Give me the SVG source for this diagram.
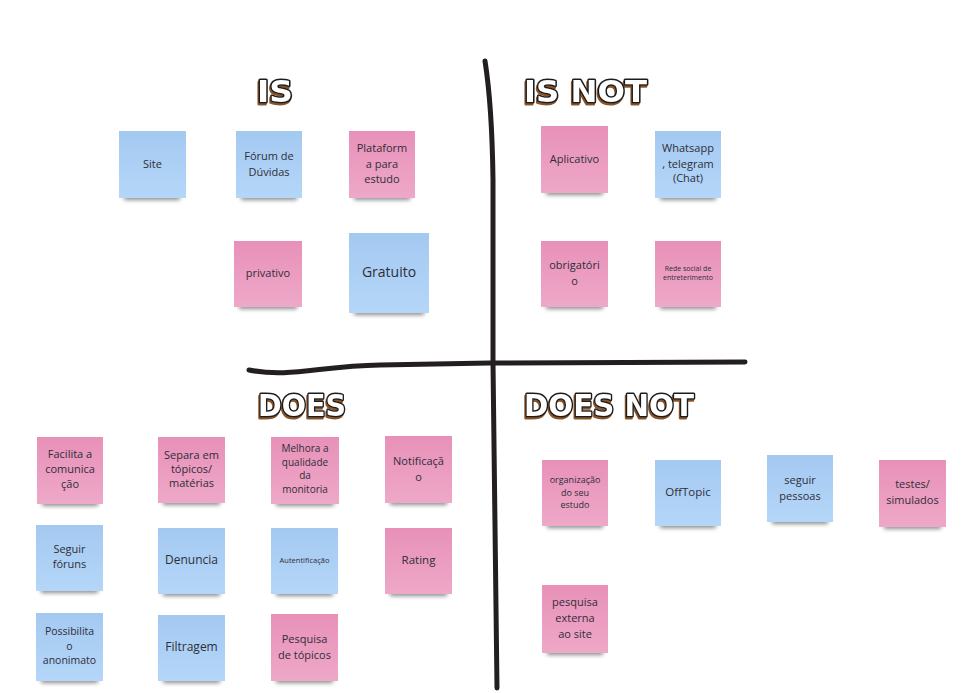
<svg xmlns="http://www.w3.org/2000/svg" width="970" height="693" viewBox="0 0 970 693">
<defs>
<linearGradient id="pink" x1="0" y1="0" x2="0" y2="1"><stop offset="0" stop-color="#E891B8"/><stop offset="1" stop-color="#EEA8C8"/></linearGradient>
<linearGradient id="blue" x1="0" y1="0" x2="0" y2="1"><stop offset="0" stop-color="#A4C9F1"/><stop offset="1" stop-color="#B4D6F8"/></linearGradient>
<filter id="blur" x="-20%" y="-100%" width="140%" height="300%"><feGaussianBlur stdDeviation="2"/></filter>
<filter id="hshadow" x="-10%" y="-20%" width="120%" height="150%">
<feOffset in="SourceAlpha" dx="-1.5" dy="2" result="o"/>
<feFlood flood-color="#8a5226"/>
<feComposite in2="o" operator="in" result="s"/>
<feMerge><feMergeNode in="s"/><feMergeNode in="SourceGraphic"/></feMerge>
</filter>
</defs>
<style>
.p{fill:url(#pink)}
.b{fill:url(#blue)}
.sh{fill:#000;opacity:.45;filter:url(#blur)}
text.t{font-family:"Open Sans","Liberation Sans",sans-serif;font-size:11px;fill:#2e2e38;text-anchor:middle}
.hd{font-family:"DejaVu Sans","Liberation Sans",sans-serif;font-weight:bold;font-size:31px;fill:#fff;stroke:#1b1b1b;stroke-width:3;paint-order:stroke;stroke-linejoin:round;filter:url(#hshadow)}
.ln{fill:none;stroke:#231f20;stroke-width:5;stroke-linecap:round;stroke-linejoin:round}
</style>
<rect width="970" height="693" fill="#fff"/>
<g id="connectors">
<path class="ln" d="M485,61 Q492,105 493,180 L493,363 Q495,520 497,688"/>
<path class="ln" d="M249,370 C290,378 320,366 380,365 L490,363 L745,362"/>
</g>
<g id="headers">
<text class="hd" x="257" y="102" textLength="36" lengthAdjust="spacingAndGlyphs">IS</text>
<text class="hd" x="524" y="102" textLength="123" lengthAdjust="spacingAndGlyphs">IS NOT</text>
<text class="hd" x="258" y="416" textLength="88" lengthAdjust="spacingAndGlyphs">DOES</text>
<text class="hd" x="524" y="416" textLength="170" lengthAdjust="spacingAndGlyphs">DOES NOT</text>
</g>
<g id="n-site"><rect class="sh" x="124" y="194" width="56" height="6"/><rect class="b" x="119" y="131" width="67" height="67"/><text class="t" x="152.5" y="168">Site</text></g>
<g id="n-forum"><rect class="sh" x="241" y="194" width="56" height="6"/><rect class="b" x="236" y="131" width="66" height="67"/><text class="t" x="269" y="160">Fórum de</text><text class="t" x="269" y="176">Dúvidas</text></g>
<g id="n-plataforma"><rect class="sh" x="354" y="194" width="56" height="6"/><rect class="p" x="349" y="131" width="66" height="67"/><text class="t" x="382" y="152">Plataform</text><text class="t" x="382" y="168">a para</text><text class="t" x="382" y="183">estudo</text></g>
<g id="n-privativo"><rect class="sh" x="239" y="303" width="58" height="6"/><rect class="p" x="234" y="241" width="68" height="66"/><text class="t" x="268" y="277">privativo</text></g>
<g id="n-gratuito"><rect class="sh" x="354" y="309" width="70" height="6"/><rect class="b" x="349" y="233" width="80" height="80"/><text class="t" x="389" y="277" style="font-size:14px">Gratuito</text></g>
<g id="n-aplicativo"><rect class="sh" x="546" y="189" width="57" height="6"/><rect class="p" x="541" y="126" width="67" height="67"/><text class="t" x="574.5" y="163">Aplicativo</text></g>
<g id="n-whatsapp"><rect class="sh" x="660" y="194" width="56" height="6"/><rect class="b" x="655" y="131" width="66" height="67"/><text class="t" x="688" y="152">Whatsapp</text><text class="t" x="688" y="168">, telegram</text><text class="t" x="688" y="182">(Chat)</text></g>
<g id="n-obrigatorio"><rect class="sh" x="546" y="303" width="57" height="6"/><rect class="p" x="541" y="241" width="67" height="66"/><text class="t" x="574.5" y="269">obrigatóri</text><text class="t" x="574.5" y="285">o</text></g>
<g id="n-rede"><rect class="sh" x="660" y="303" width="56" height="6"/><rect class="p" x="655" y="241" width="66" height="66"/><text class="t" x="688" y="270.5" style="font-size:7px">Rede social de</text><text class="t" x="688" y="279.5" style="font-size:7px">entreterimento</text></g>
<g id="n-facilita"><rect class="sh" x="42" y="500" width="56" height="6"/><rect class="p" x="37" y="437" width="66" height="67"/><text class="t" x="70" y="458">Facilita a</text><text class="t" x="70" y="473">comunica</text><text class="t" x="70" y="488">ção</text></g>
<g id="n-separa"><rect class="sh" x="163" y="499" width="57" height="6"/><rect class="p" x="158" y="437" width="67" height="66"/><text class="t" x="191.5" y="459">Separa em</text><text class="t" x="191.5" y="473">tópicos/</text><text class="t" x="191.5" y="487">matérias</text></g>
<g id="n-melhora"><rect class="sh" x="276" y="500" width="58" height="6"/><rect class="p" x="271" y="437" width="68" height="67"/><text class="t" x="305" y="452" style="font-size:10px">Melhora a</text><text class="t" x="305" y="466" style="font-size:10px">qualidade</text><text class="t" x="305" y="479" style="font-size:10px">da</text><text class="t" x="305" y="493" style="font-size:10px">monitoria</text></g>
<g id="n-notificacao"><rect class="sh" x="390" y="499" width="57" height="6"/><rect class="p" x="385" y="436" width="67" height="67"/><text class="t" x="418.5" y="465">Notificaçã</text><text class="t" x="418.5" y="481">o</text></g>
<g id="n-seguir"><rect class="sh" x="41" y="587" width="57" height="6"/><rect class="b" x="36" y="525" width="67" height="66"/><text class="t" x="69.5" y="553">Seguir</text><text class="t" x="69.5" y="568">fóruns</text></g>
<g id="n-denuncia"><rect class="sh" x="163" y="590" width="57" height="6"/><rect class="b" x="158" y="528" width="67" height="66"/><text class="t" x="191.5" y="564" style="font-size:12px">Denuncia</text></g>
<g id="n-autentificacao"><rect class="sh" x="276" y="590" width="57" height="6"/><rect class="b" x="271" y="528" width="67" height="66"/><text class="t" x="304.5" y="562.5" style="font-size:7.5px">Autentificação</text></g>
<g id="n-rating"><rect class="sh" x="390" y="590" width="57" height="6"/><rect class="p" x="385" y="528" width="67" height="66"/><text class="t" x="418.5" y="564" style="font-size:11.5px">Rating</text></g>
<g id="n-possibilita"><rect class="sh" x="41" y="677" width="57" height="6"/><rect class="b" x="36" y="613" width="67" height="68"/><text class="t" x="69.5" y="635" style="font-size:10.5px">Possibilita</text><text class="t" x="69.5" y="650" style="font-size:10.5px">o</text><text class="t" x="69.5" y="664" style="font-size:10.5px">anonimato</text></g>
<g id="n-filtragem"><rect class="sh" x="163" y="677" width="57" height="6"/><rect class="b" x="158" y="615" width="67" height="66"/><text class="t" x="191.5" y="651" style="font-size:12px">Filtragem</text></g>
<g id="n-pesquisa"><rect class="sh" x="276" y="677" width="57" height="6"/><rect class="p" x="271" y="614" width="67" height="67"/><text class="t" x="304.5" y="643">Pesquisa</text><text class="t" x="304.5" y="659">de tópicos</text></g>
<g id="n-organizacao"><rect class="sh" x="547" y="522" width="56" height="6"/><rect class="p" x="542" y="460" width="66" height="66"/><text class="t" x="575" y="483" style="font-size:9px">organização</text><text class="t" x="575" y="496" style="font-size:9px">do seu</text><text class="t" x="575" y="507.5" style="font-size:9px">estudo</text></g>
<g id="n-offtopic"><rect class="sh" x="660" y="522" width="56" height="6"/><rect class="b" x="655" y="460" width="66" height="66"/><text class="t" x="688" y="496" style="font-size:11.5px">OffTopic</text></g>
<g id="n-seguirpessoas"><rect class="sh" x="772" y="518" width="56" height="6"/><rect class="b" x="767" y="455" width="66" height="67"/><text class="t" x="800" y="484">seguir</text><text class="t" x="800" y="500">pessoas</text></g>
<g id="n-testes"><rect class="sh" x="884" y="523" width="57" height="6"/><rect class="p" x="879" y="460" width="67" height="67"/><text class="t" x="912.5" y="488">testes/</text><text class="t" x="912.5" y="504">simulados</text></g>
<g id="n-pesquisaexterna"><rect class="sh" x="547" y="649" width="56" height="6"/><rect class="p" x="542" y="585" width="66" height="68"/><text class="t" x="575" y="606">pesquisa</text><text class="t" x="575" y="622">externa</text><text class="t" x="575" y="638">ao site</text></g>
</svg>
